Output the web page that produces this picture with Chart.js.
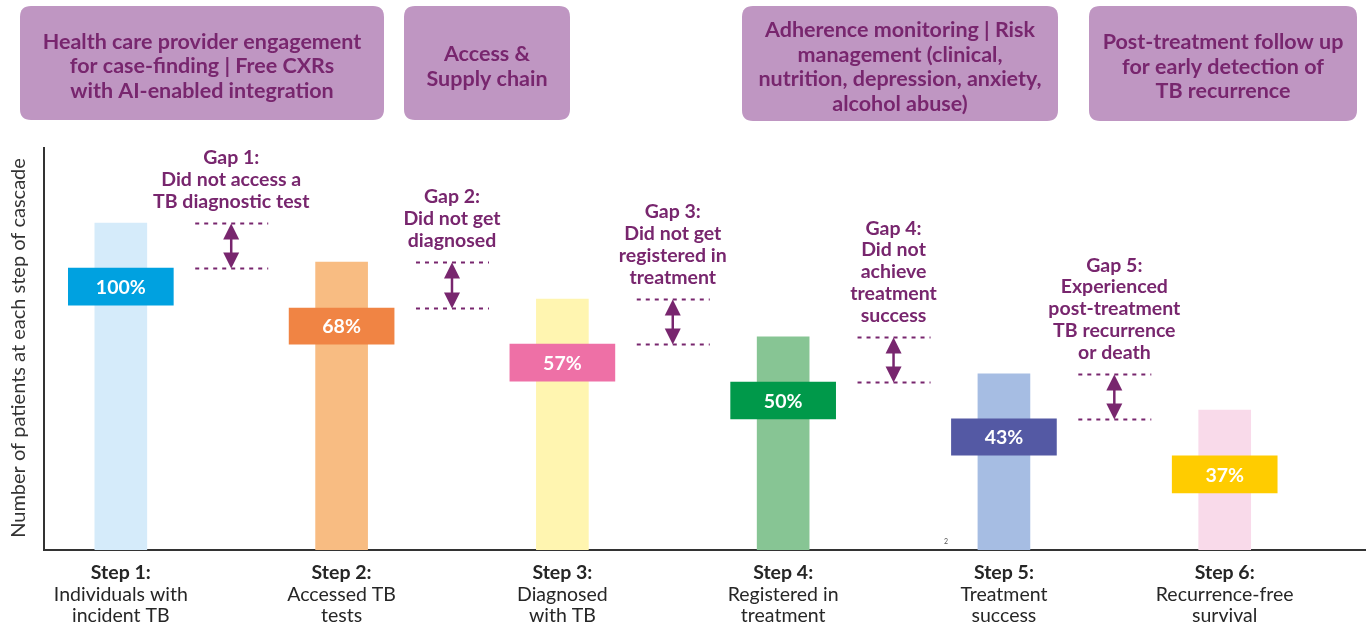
<!DOCTYPE html>
<html>
<head>
<meta charset="utf-8">
<script src="https://cdn.jsdelivr.net/npm/chart.js@4"></script>
<style>
  html, body { margin: 0; padding: 0; background: #ffffff; }
  #wrap { position: relative; width: 1366px; height: 625px; }
</style>
</head>
<body>
<div id="wrap"><canvas id="c" width="1366" height="625"></canvas></div>
<script>
// ---- data ----
const stepTitles = ['Step 1:', 'Step 2:', 'Step 3:', 'Step 4:', 'Step 5:', 'Step 6:'];
const stepDescriptions = [
  ['Individuals with', 'incident TB'],
  ['Accessed TB', 'tests'],
  ['Diagnosed', 'with TB'],
  ['Registered in', 'treatment'],
  ['Treatment', 'success'],
  ['Recurrence-free', 'survival']
];
const barValues = [81.3, 71.6, 62.4, 53.0, 43.8, 34.8];
const boxLow = [60.9, 51.2, 42.0, 32.6, 23.6, 14.2];
const boxHigh = [70.1, 60.2, 51.2, 41.8, 32.6, 23.4];
const percentLabels = ['100%', '68%', '57%', '50%', '43%', '37%'];
const barColors = ['#D5EBFA', '#F8BC82', '#FFF5B0', '#87C594', '#A6BDE3', '#F9DAEA'];
const boxColors = ['#00A1E0', '#F08444', '#EE70A6', '#00994A', '#5459A4', '#FFCC00'];
const gapTexts = [
  ['Gap 1:', 'Did not access a', 'TB diagnostic test'],
  ['Gap 2:', 'Did not get', 'diagnosed'],
  ['Gap 3:', 'Did not get', 'registered in', 'treatment'],
  ['Gap 4:', 'Did not', 'achieve', 'treatment', 'success'],
  ['Gap 5:', 'Experienced', 'post-treatment', 'TB recurrence', 'or death']
];
const interventionTexts = [
  ['Health care provider engagement', 'for case-finding | Free CXRs', 'with AI-enabled integration'],
  ['Access &', 'Supply chain'],
  ['Adherence monitoring | Risk', 'management (clinical,', 'nutrition, depression, anxiety,', 'alcohol abuse)'],
  ['Post-treatment follow up', 'for early detection of', 'TB recurrence']
];
const yAxisTitle = 'Number of patients at each step of cascade';
const footnote = '2';

// ---- styles / layout ----
const PURPLE = '#78266E';
const BOX_FILL = '#BF96C2';
const FONT = 'Lato, "Open Sans", sans-serif';
const interventionBoxes = [
  {x: 20, y: 6, w: 364, h: 114},
  {x: 404, y: 6, w: 166, h: 114},
  {x: 742, y: 6, w: 316, h: 115},
  {x: 1089, y: 6, w: 268, h: 115}
];

function roundRect(ctx, x, y, w, h, r) {
  ctx.beginPath();
  ctx.moveTo(x + r, y);
  ctx.lineTo(x + w - r, y);
  ctx.quadraticCurveTo(x + w, y, x + w, y + r);
  ctx.lineTo(x + w, y + h - r);
  ctx.quadraticCurveTo(x + w, y + h, x + w - r, y + h);
  ctx.lineTo(x + r, y + h);
  ctx.quadraticCurveTo(x, y + h, x, y + h - r);
  ctx.lineTo(x, y + r);
  ctx.quadraticCurveTo(x, y, x + r, y);
  ctx.closePath();
}

const decorPlugin = {
  id: 'decor',
  afterDraw(chart) {
    const ctx = chart.ctx;
    const xs = chart.scales.x, ys = chart.scales.y;
    ctx.save();

    // intervention boxes
    interventionBoxes.forEach((b, i) => {
      ctx.fillStyle = BOX_FILL;
      roundRect(ctx, b.x, b.y, b.w, b.h, 11);
      ctx.fill();
      const lines = interventionTexts[i];
      const lh = 24.5;
      const cy = b.y + b.h / 2 + 3.5;
      ctx.fillStyle = PURPLE;
      ctx.font = 'bold 21.5px ' + FONT;
      ctx.textAlign = 'center';
      ctx.textBaseline = 'middle';
      lines.forEach((t, k) => {
        ctx.fillText(t, b.x + b.w / 2, cy + (k - (lines.length - 1) / 2) * lh);
      });
    });

    // percentage labels on boxes
    const boxMeta = chart.getDatasetMeta(0);
    ctx.fillStyle = '#ffffff';
    ctx.font = 'bold 19.5px ' + FONT;
    ctx.textAlign = 'center';
    ctx.textBaseline = 'middle';
    boxMeta.data.forEach((el, i) => {
      const top = ys.getPixelForValue(boxHigh[i]);
      const bot = ys.getPixelForValue(boxLow[i]);
      ctx.fillText(percentLabels[i], el.x, (top + bot) / 2 + 1);
    });

    // gaps
    gapTexts.forEach((lines, i) => {
      const cx = xs.getPixelForValue(i + 0.5);
      const yTop = Math.round(ys.getPixelForValue(barValues[i])) + 0.5;
      const yBot = Math.round(ys.getPixelForValue(boxHigh[i])) + 0.5;
      ctx.strokeStyle = PURPLE;
      ctx.lineWidth = 2;
      ctx.setLineDash([4, 5]);
      [yTop, yBot].forEach(yy => {
        ctx.beginPath();
        ctx.moveTo(cx - 36, yy);
        ctx.lineTo(cx + 37, yy);
        ctx.stroke();
      });
      ctx.setLineDash([]);
      // double arrow
      ctx.fillStyle = PURPLE;
      ctx.lineWidth = 2.5;
      ctx.beginPath();
      ctx.moveTo(cx, yTop + 10);
      ctx.lineTo(cx, yBot - 10);
      ctx.stroke();
      ctx.beginPath();
      ctx.moveTo(cx, yTop);
      ctx.lineTo(cx - 8, yTop + 16);
      ctx.lineTo(cx + 8, yTop + 16);
      ctx.closePath();
      ctx.fill();
      ctx.beginPath();
      ctx.moveTo(cx, yBot);
      ctx.lineTo(cx - 8, yBot - 16);
      ctx.lineTo(cx + 8, yBot - 16);
      ctx.closePath();
      ctx.fill();
      // text
      ctx.font = 'bold 19.5px ' + FONT;
      ctx.textAlign = 'center';
      ctx.textBaseline = 'middle';
      const lh = 21.8;
      const lastY = yTop - 22;
      lines.forEach((t, k) => {
        ctx.fillText(t, cx, lastY - (lines.length - 1 - k) * lh);
      });
    });

    // x category labels
    ctx.fillStyle = '#262626';
    ctx.textAlign = 'center';
    ctx.textBaseline = 'middle';
    stepTitles.forEach((t, i) => {
      const x = xs.getPixelForValue(i);
      ctx.font = 'bold 19.5px ' + FONT;
      ctx.fillText(t, x, 573);
      ctx.font = '19.5px ' + FONT;
      stepDescriptions[i].forEach((d, k) => ctx.fillText(d, x, 594.5 + k * 21.5));
    });

    // y axis title
    ctx.save();
    ctx.translate(19, (ys.top + ys.bottom) / 2 - 1);
    ctx.rotate(-Math.PI / 2);
    ctx.font = '20px ' + FONT;
    ctx.fillStyle = '#333333';
    ctx.fillText(yAxisTitle, 0, 0);
    ctx.restore();

    // footnote mark
    ctx.font = '7px ' + FONT;
    ctx.fillStyle = '#555555';
    ctx.fillText(footnote, 946, 542);

    ctx.restore();
  }
};

new Chart(document.getElementById('c'), {
  type: 'bar',
  data: {
    datasets: [
      {
        label: 'share',
        data: boxLow.map((lo, i) => ({x: i, y: [lo, boxHigh[i]]})),
        backgroundColor: boxColors,
        barThickness: 105,
        grouped: false,
        borderWidth: 0
      },
      {
        label: 'patients',
        data: barValues.map((v, i) => ({x: i, y: v})),
        backgroundColor: barColors,
        barThickness: 52,
        grouped: false,
        borderWidth: 0
      }
    ]
  },
  plugins: [decorPlugin],
  options: {
    responsive: false,
    devicePixelRatio: 1,
    animation: false,
    events: [],
    layout: { padding: { left: 44, top: 148, right: 0, bottom: 75 } },
    plugins: { legend: { display: false }, tooltip: { enabled: false } },
    scales: {
      x: {
        type: 'linear',
        offset: false,
        min: -0.348,
        max: 5.64,
        grid: { display: false, drawTicks: false, offset: false },
        ticks: { display: false },
        border: { display: true, color: '#333333', width: 2 }
      },
      y: {
        min: 0,
        max: 100,
        grid: { display: false, drawTicks: false },
        ticks: { display: false },
        border: { display: true, color: '#333333', width: 2 }
      }
    }
  }
});
</script>
</body>
</html>
